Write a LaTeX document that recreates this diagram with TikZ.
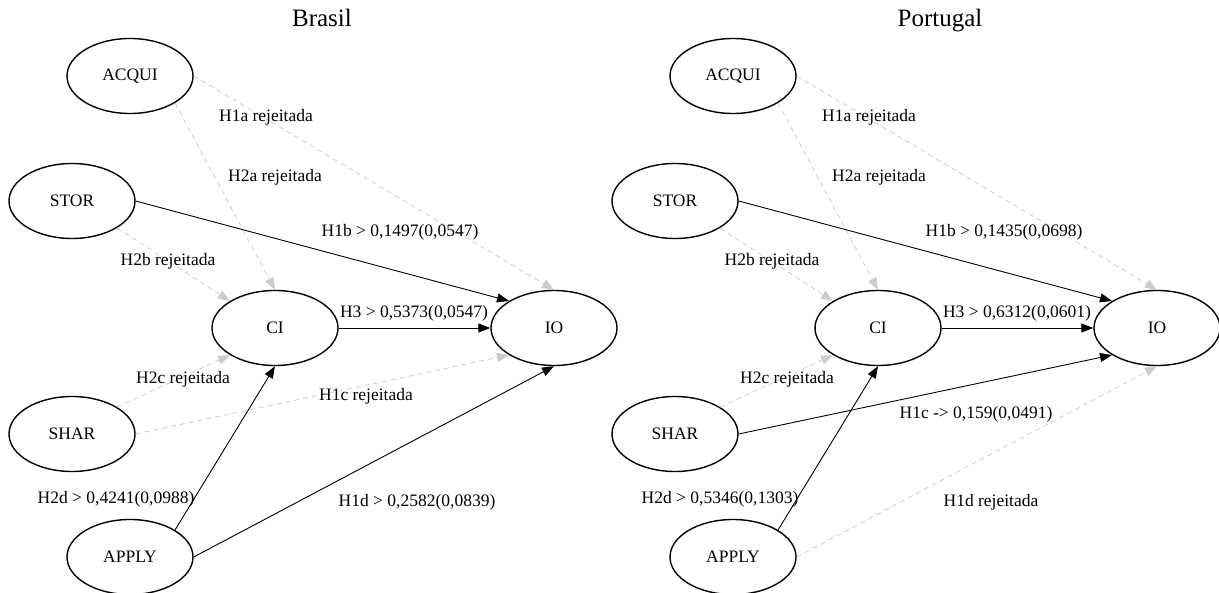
\documentclass[tikz,border=0pt]{standalone}
\usepackage{fontspec}
\setmainfont{Liberation Serif}
\usetikzlibrary{arrows.meta,shapes.geometric}
\definecolor{cinzarej}{gray}{0.8}
\tikzset{
  construto/.style={ellipse,draw,line width=1.4pt,minimum width=126pt,
    minimum height=75pt,inner sep=0pt,font=\fontsize{17.5}{20}\selectfont},
  rotulo/.style={font=\fontsize{17.5}{20}\selectfont,inner sep=0pt},
  titulo/.style={font=\fontsize{25}{28}\selectfont,inner sep=0pt,anchor=base},
  aceita/.style={line width=0.9pt,-{Triangle[length=12pt,width=9pt]}},
  rejeitada/.style={cinzarej,line width=0.8pt,dash pattern=on 5pt off 4pt,
    -{Triangle[length=12pt,width=9pt]}},
}

\begin{document}
\begin{tikzpicture}[x=1pt,y=-1pt]
  \useasboundingbox (0,0) rectangle (1219,593);
  % Brasil
  \node[titulo] (b-tit) at (322,27) {Brasil};
  \node[construto] (b-acqui) at (130,76)  {ACQUI};
  \node[construto] (b-stor)  at (72,201)  {STOR};
  \node[construto] (b-ci)    at (275,328) {CI};
  \node[construto] (b-io)    at (554,328) {IO};
  \node[construto] (b-shar)  at (72,434)  {SHAR};
  \node[construto] (b-apply) at (130,557) {APPLY};
  \draw[rejeitada] (b-acqui.east)       -- (b-io.north);
  \draw[rejeitada] (b-acqui.south east) -- (b-ci.north);
  \draw[aceita]    (b-stor.east)        -- (b-io.north west);
  \draw[rejeitada] (b-stor.south east)  -- (b-ci.north west);
  \draw[aceita]    (b-ci.east)          -- (b-io.west);
  \draw[rejeitada] (b-shar.north east)  -- (b-ci.south west);
  \draw[rejeitada] (b-shar.east)        -- (b-io.south west);
  \draw[aceita]    (b-apply.north east) -- (b-ci.south);
  \draw[aceita]    (b-apply.east)       -- (b-io.south);
  \node[rotulo] (b-h1a) at (266,117) {H1a rejeitada};
  \node[rotulo] (b-h2a) at (275,177) {H2a rejeitada};
  \node[rotulo] (b-h1b) at (400,232) {H1b > 0,1497(0,0547)};
  \node[rotulo] (b-h2b) at (168,261) {H2b rejeitada};
  \node[rotulo] (b-h3)  at (414,313) {H3 > 0,5373(0,0547)};
  \node[rotulo] (b-h2c) at (183,379) {H2c rejeitada};
  \node[rotulo] (b-h1c) at (366,396) {H1c rejeitada};
  \node[rotulo] (b-h2d) at (116,499) {H2d > 0,4241(0,0988)};
  \node[rotulo] (b-h1d) at (417,502) {H1d > 0,2582(0,0839)};
  % Portugal
  \node[titulo] (p-tit) at (940,27) {Portugal};
  \begin{scope}[xshift=603pt]
    \node[construto] (p-acqui) at (130,76)  {ACQUI};
    \node[construto] (p-stor)  at (72,201)  {STOR};
    \node[construto] (p-ci)    at (275,328) {CI};
    \node[construto] (p-io)    at (554,328) {IO};
    \node[construto] (p-shar)  at (72,434)  {SHAR};
    \node[construto] (p-apply) at (130,557) {APPLY};
    \draw[rejeitada] (p-acqui.east)       -- (p-io.north);
    \draw[rejeitada] (p-acqui.south east) -- (p-ci.north);
    \draw[aceita]    (p-stor.east)        -- (p-io.north west);
    \draw[rejeitada] (p-stor.south east)  -- (p-ci.north west);
    \draw[aceita]    (p-ci.east)          -- (p-io.west);
    \draw[rejeitada] (p-shar.north east)  -- (p-ci.south west);
    \draw[aceita]    (p-shar.east)        -- (p-io.south west);
    \draw[aceita]    (p-apply.north east) -- (p-ci.south);
    \draw[rejeitada] (p-apply.east)       -- (p-io.south);
    \node[rotulo] (p-h1a) at (266,117) {H1a rejeitada};
    \node[rotulo] (p-h2a) at (276,177) {H2a rejeitada};
    \node[rotulo] (p-h1b) at (401,232) {H1b > 0,1435(0,0698)};
    \node[rotulo] (p-h2b) at (169,261) {H2b rejeitada};
    \node[rotulo] (p-h3)  at (414,313) {H3 > 0,6312(0,0601)};
    \node[rotulo] (p-h2c) at (184,379) {H2c rejeitada};
    \node[rotulo] (p-h1c) at (373,414) {H1c -> 0,159(0,0491)};
    \node[rotulo] (p-h2d) at (117,499) {H2d > 0,5346(0,1303)};
    \node[rotulo] (p-h1d) at (388,502) {H1d rejeitada};
  \end{scope}
\end{tikzpicture}
\end{document}
